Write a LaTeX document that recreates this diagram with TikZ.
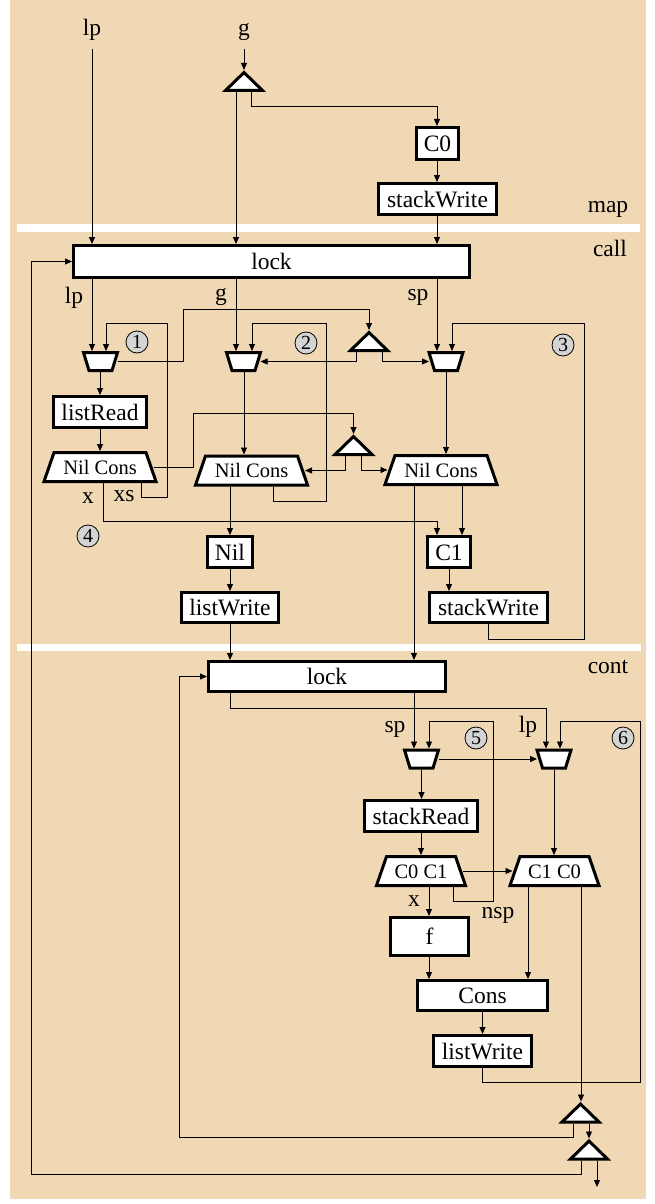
\documentclass[tikz,border=0pt]{standalone}
\usepackage{fontspec}
\setmainfont{Liberation Serif}
\usetikzlibrary{arrows.meta}
\definecolor{bgtan}{RGB}{240,216,180}
\definecolor{circgray}{RGB}{212,212,212}
\newcommand\muxat[3]{%
  \draw[thk,fill=white] ({#2-17},{#3-9}) -- ({#2+17},{#3-9}) -- ({#2+11.5},{#3+9}) -- ({#2-11.5},{#3+9}) -- cycle;
  \node[shapen,minimum width=39pt,minimum height=21pt] (#1) at (#2,#3) {};}
\newcommand\trapat[5]{%
  \draw[thk,fill=white] ({#2-#4},{#3-14.5}) -- ({#2+#4},{#3-14.5}) -- ({#2+#4+10},{#3+14.5}) -- ({#2-#4-10},{#3+14.5}) -- cycle;
  \node[shapen,trapfont,minimum width={2*#4+25},minimum height=32pt] (#1) at (#2,#3) {#5};}
\newcommand\triat[3]{%
  \draw[thk,fill=white] (#2,{#3-8.5}) -- ({#2+18.5},{#3+9.5}) -- ({#2-18.5},{#3+9.5}) -- cycle;
  \node[shapen,minimum width=43pt,minimum height=22pt] (#1) at (#2,#3) {};}
\begin{document}
\begin{tikzpicture}[x=1pt,y=-1pt,
  thk/.style={line width=3pt,line join=miter},
  shapen/.style={inner sep=0pt,outer sep=0pt,draw=none},
  trapfont/.style={font=\fontsize{20.5}{24}\selectfont,text height=14pt,text depth=0pt},
  box/.style={draw,line width=3pt,fill=white,inner sep=0pt,font=\fontsize{23.5}{28}\selectfont,text height=16pt,text depth=0pt},
  lbl/.style={font=\fontsize{23.5}{28}\selectfont,inner sep=0pt,anchor=base},
  circ/.style={circle,draw,line width=0.8pt,fill=circgray,minimum size=22pt,inner sep=0pt,font=\fontsize{20}{24}\selectfont},
  wire/.style={line width=0.9pt},
  arr/.style={line width=0.9pt,-{Triangle[length=7pt,width=6pt]}}]
\useasboundingbox (0,0) rectangle (654,1204);
\fill[white] (0,0) rectangle (654,1204);
\fill[bgtan] (10,0) rectangle (646,1199);
\fill[white] (17,224) rectangle (640,232);
\fill[white] (17,644) rectangle (641,651);

% ---------- map ----------
\node[lbl] (lpTop) at (92,36) {lp};
\node[lbl] (gTop) at (244,36) {g};
\node[lbl] (mapL) at (608,212) {map};
\coordinate (lpIn) at (92,49);
\coordinate (gIn) at (244,49);
\triat{T0}{244}{81}
\node[box,minimum width=42pt,minimum height=32pt] (C0m) at (437.5,143.5) {C0};
\node[box,minimum width=118pt,minimum height=31pt] (SWm) at (437.5,199) {stackWrite};

% ---------- call ----------
\node[lbl] (callL) at (610,256) {call};
\node[box,minimum width=396pt,minimum height=32pt] (lock1) at (271.5,261.5) {lock};
\node[lbl] (lpL1) at (74,303) {lp};
\node[lbl] (gL1) at (221,300) {g};
\node[lbl] (spL1) at (418,300) {sp};
\muxat{mux1}{100.5}{361.5}
\muxat{mux2}{243.5}{361.5}
\muxat{mux3}{446}{361.5}
\triat{T1}{369}{341}
\node[box,minimum width=93pt,minimum height=31pt] (LR) at (100,412) {listRead};
\trapat{NC1}{100}{467}{46}{Nil Cons}
\trapat{NC2}{251.5}{470.5}{46}{Nil Cons}
\trapat{NC3}{441}{470}{46}{Nil Cons}
\triat{T2}{353.5}{445}
\node[lbl] (xL1) at (88,503) {x};
\node[lbl] (xsL1) at (124,501) {xs};
\node[box,minimum width=45pt,minimum height=31pt] (Nil) at (230,552) {Nil};
\node[box,minimum width=97pt,minimum height=30pt] (LW1) at (230,607.5) {listWrite};
\node[box,minimum width=43pt,minimum height=31pt] (C1) at (449,552) {C1};
\node[box,minimum width=118pt,minimum height=30pt] (SW2) at (488.5,607.5) {stackWrite};
\node[circ] (c1) at (137,342) {1};
\node[circ] (c2) at (306,343) {2};
\node[circ] (c3) at (563,345) {3};
\node[circ] (c4) at (88,536) {4};

% ---------- cont ----------
\node[lbl] (contL) at (608,673) {cont};
\node[box,minimum width=237pt,minimum height=30pt] (lock2) at (327,676.5) {lock};
\node[lbl] (spL2) at (395,732) {sp};
\node[lbl] (lpL2) at (528,732) {lp};
\muxat{mux5}{421.5}{759}
\muxat{mux6}{554}{759}
\node[circ] (c5) at (476,738) {5};
\node[circ] (c6) at (623,738) {6};
\node[box,minimum width=113pt,minimum height=31pt] (SR) at (421,816) {stackRead};
\trapat{CA}{421}{871}{34.5}{C0 C1}
\trapat{CB}{554.5}{871}{34.5}{C1 C0}
\node[lbl] (xL2) at (414,906) {x};
\node[lbl] (nspL) at (498,918) {nsp};
\node[box,minimum width=78pt,minimum height=38pt] (F) at (429.5,936.5) {f};
\node[box,minimum width=130pt,minimum height=30pt] (Cons) at (482.5,995.5) {Cons};
\node[box,minimum width=98pt,minimum height=31pt] (LW2) at (482.5,1051) {listWrite};
\triat{T3}{580.5}{1112.5}
\triat{T4}{589}{1149.5}
\coordinate (outEnd) at (597,1187);

% ---------- connectors: map ----------
\draw[arr] (lpIn) -- (lock1.north -| lpIn);
\draw[arr] (gIn) -- (T0.north);
\draw[arr] (T0.south -| 236,0) -- (lock1.north -| 236,0);
\draw[arr] (T0.south -| 251,0) |- (437,106) -- (C0m.north -| 437,0);
\draw[arr] (C0m.south -| 437,0) -- (SWm.north -| 437,0);
\draw[arr] (SWm.south -| 437,0) -- (lock1.north -| 437,0);

% ---------- connectors: call ----------
\draw[arr] (T4.south -| 581,0) |- (31,1174) |- (lock1.west);
\draw[arr] (lock1.south -| 92,0) -- (mux1.north -| 92,0);
\draw[arr] (lock1.south -| 236,0) -- (mux2.north -| 236,0);
\draw[arr] (lock1.south -| 437,0) -- (mux3.north -| 437,0);
\draw[arr] (mux1.south -| 100,0) -- (LR.north -| 100,0);
\draw[arr] (LR.south) -- (NC1.north);
\draw[arr] (NC1.south -| 141,0) |- (167,497) |- (106,323) -- (mux1.north -| 106,0);
\draw[arr] ([xshift=-2.5pt]mux1.east) -| (183,309) -| (T1.north);
\draw[arr] (T1.south -| 356,0) |- ([xshift=-2.5pt]mux2.east);
\draw[arr] (T1.south -| 382,0) |- ([xshift=2.5pt]mux3.west);
\draw[arr] (NC2.south -| 273,0) |- (326,501) |- (252,323) -- (mux2.north -| 252,0);
\draw[arr] (mux2.south -| 244,0) -- (NC2.north -| 244,0);
\draw[arr] ([xshift=-5pt]NC1.east) -| (193,413) -| (T2.north);
\draw[arr] (T2.south -| 345,0) |- ([xshift=-5pt]NC2.east);
\draw[arr] (T2.south -| 361,0) |- ([xshift=5pt]NC3.west);
\draw[arr] (mux3.south) -- (NC3.north -| mux3.south);
\draw[arr] (SW2.south -| 488,0) |- (584,639) |- (452,323) -- (mux3.north -| 452,0);
\draw[arr] (NC1.south -| 103,0) |- (437,521) -- (C1.north -| 437,0);
\draw[arr] (NC2.south -| 230,0) -- (Nil.north);
\draw[arr] (Nil.south) -- (LW1.north);
\draw[arr] (LW1.south) -- (lock2.north -| LW1.south);
\draw[arr] (NC3.south -| 414,0) -- (lock2.north -| 414,0);
\draw[arr] (NC3.south -| 462,0) -- (C1.north -| 462,0);
\draw[arr] (C1.south) -- (SW2.north -| C1.south);

% ---------- connectors: cont ----------
\draw[arr] (T3.south -| 573,0) |- (179,1137) |- (lock2.west);
\draw[arr] (lock2.south -| 230,0) |- (546,708) -- (mux6.north -| 546,0);
\draw[arr] (lock2.south -| 414,0) -- (mux5.north -| 414,0);
\draw[arr] (CA.south -| 453,0) |- (493,901) |- (429,721) -- (mux5.north -| 429,0);
\draw[arr] ([xshift=-2.5pt]mux5.east) -- ([xshift=2.5pt]mux6.west);
\draw[arr] (LW2.south) |- (640,1082) |- (560,721) -- (mux6.north -| 560,0);
\draw[arr] (mux5.south -| 421.5,0) -- (SR.north -| 421.5,0);
\draw[arr] (SR.south) -- (CA.north);
\draw[arr] (mux6.south) -- (CB.north -| mux6.south);
\draw[arr] ([xshift=-5pt]CA.east) -- ([xshift=5pt]CB.west);
\draw[arr] (CA.south -| 429,0) -- (F.north -| 429,0);
\draw[arr] (F.south -| 429,0) -- (Cons.north -| 429,0);
\draw[arr] (CB.south -| 528,0) -- (Cons.north -| 528,0);
\draw[arr] (Cons.south) -- (LW2.north);
\draw[arr] (CB.south -| 581,0) -- (T3.north -| 581,0);
\draw[arr] (T3.south -| 589,0) -- (T4.north -| 589,0);
\draw[arr] (T4.south -| 597,0) -- (outEnd);
\end{tikzpicture}
\end{document}
